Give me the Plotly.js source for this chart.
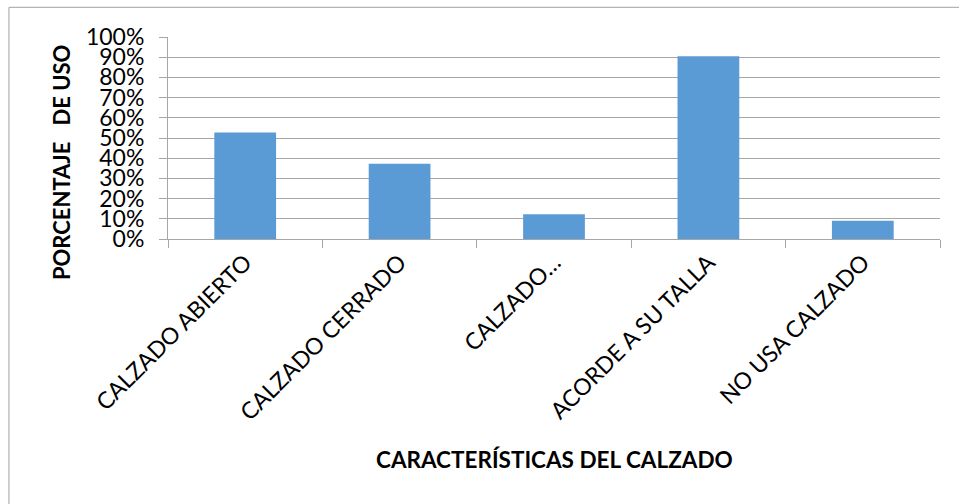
<!DOCTYPE html>
<html>
<head>
<meta charset="utf-8">
<script src="https://cdn.plot.ly/plotly-3.0.1.min.js"></script>
<style>
  html, body { margin: 0; padding: 0; background: #fff; }
  #chart { width: 959px; height: 504px; }
</style>
</head>
<body>
<div id="chart"></div>
<script>
const categories = ["CALZADO ABIERTO", "CALZADO CERRADO", "CALZADO…", "ACORDE A SU TALLA", "NO USA CALZADO"];
const values = [0.527, 0.372, 0.122, 0.905, 0.09];
const yTitle = "PORCENTAJE   DE USO";
const xTitle = "CARACTERÍSTICAS DEL CALZADO";

const FONT = "Lato, 'Open Sans', sans-serif";
const GRID = "#a6a6a6";

const trace = {
  type: "bar",
  x: categories,
  y: values,
  marker: { color: "#5B9BD5", line: { width: 0 } },
  hoverinfo: "skip"
};

const layout = {
  width: 959,
  height: 504,
  margin: { l: 168, r: 19, t: 37, b: 265 },
  paper_bgcolor: "#ffffff",
  plot_bgcolor: "#ffffff",
  showlegend: false,
  bargap: 0.6,
  font: { family: FONT, color: "#000" },
  xaxis: {
    type: "category",
    tickangle: -45,
    tickfont: { family: FONT, size: 23, color: "#000" },
    ticks: "outside",
    tickson: "boundaries",
    ticklen: 8,
    tickcolor: GRID,
    showline: true,
    linecolor: GRID,
    linewidth: 1,
    showgrid: false,
    zeroline: false,
    fixedrange: true
  },
  yaxis: {
    range: [0, 1],
    dtick: 0.1,
    tick0: 0,
    tickformat: ".0%",
    tickfont: { family: FONT, size: 23, color: "#000" },
    ticks: "outside",
    ticklen: 8,
    tickcolor: GRID,
    ticklabelstandoff: 10,
    showline: true,
    linecolor: GRID,
    showgrid: true,
    gridcolor: GRID,
    gridwidth: 1,
    zeroline: false,
    fixedrange: true
  },
  annotations: [
    {
      text: "<b>" + yTitle + "</b>",
      xref: "paper", yref: "paper",
      x: -0.1386, y: 0.376,
      xanchor: "center", yanchor: "middle",
      textangle: -90,
      showarrow: false,
      font: { family: FONT, size: 22, color: "#000" }
    },
    {
      text: "<b>" + xTitle + "</b>",
      xref: "paper", yref: "paper",
      x: 0.5, y: -1.092,
      xanchor: "center", yanchor: "middle",
      showarrow: false,
      font: { family: FONT, size: 22.5, color: "#000" }
    }
  ],
  shapes: [
    {
      type: "rect",
      xref: "paper", yref: "paper",
      x0: -0.206, x1: 1.03,
      y0: -1.34, y1: 1.147,
      line: { color: "#a0a0a0", width: 1 },
      fillcolor: "rgba(0,0,0,0)",
      layer: "below"
    }
  ]
};

Plotly.newPlot("chart", [trace], layout, { displayModeBar: false, staticPlot: true });
</script>
</body>
</html>
